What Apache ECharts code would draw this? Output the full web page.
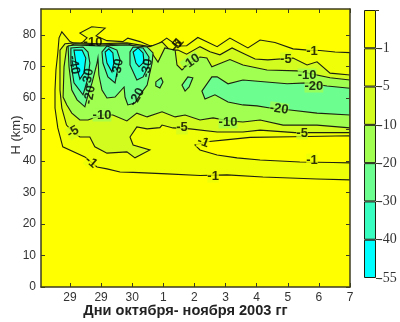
<!DOCTYPE html>
<html style="height: 100%">
<head>
    <meta charset="utf-8">
    <script type="text/javascript" src="https://cdn.jsdelivr.net/npm/echarts@6/dist/echarts.min.js"></script>
</head>
<body style="height: 100%; margin: 0; background: #fff">
<div id="container" style="height: 322px;width: 400px"></div>
<script type="text/javascript">
    // x is the tick index (0 = first "29"), y is H in km
    var xTickLabels = ['29', '29', '30', '1', '2', '3', '4', '5', '6', '7'];
    var xTickValues = [0, 1, 2, 3, 4, 5, 6, 7, 8, 9];
    var yTickValues = [0, 10, 20, 30, 40, 50, 60, 70, 80];
    var barLabels = ['', '-1', '-5', '-10', '-20', '-30', '-40', '-55'];
    var bandColors = ['#ffff00', '#eeff08', '#d2fb20', '#a0ff50', '#6cff90', '#38ffc0', '#00ffff'];

    var contour1 = [[9,74.4],[8.52,74.6],[8.04,75.1],[7.65,75.2],[7.17,75.6],[6.59,77.6],[6.11,78.4],[5.72,75.9],[5.14,79],[4.73,76.3],[4.11,79.2],[3.75,76.6],[3.46,76.5],[3.11,79],[2.8,76.8],[2.57,76.6],[2.25,77.9],[1.86,79],[1.7,77.9],[1.19,78.2],[0.84,79.7],[1.13,82.2],[0.7,82.6],[0.32,80.6],[0.55,79.1],[0.42,77.8],[0.26,76.8],[0,77.9],[-0.26,81],[-0.35,79.1],[-0.39,74.3],[-0.45,68.9],[-0.48,62.5],[-0.48,56.8],[-0.39,50.5],[-0.23,44.5],[0.48,41.3],[0.87,38.1],[1.19,37.5],[1.61,36.5],[2.03,36.4],[3.12,35.9],[4.18,35.4],[5.05,35.6],[6.2,34.9],[7.07,34.6],[7.94,34.3],[9,34]];
    var pocket1 = [[9,48],[7.17,47.7],[5.79,47.5],[5,46.7],[4.4,46.1],[4.02,45.1],[4.18,43.5],[4.73,41.9],[5.37,41],[6.11,40.3],[7.39,39.7],[8.45,39.5],[9,39.4]];
    var contour5 = [[9,67.3],[8.36,67.9],[7.94,71.5],[7.62,70.5],[7.17,72.7],[6.36,72.1],[5.95,72.4],[5.46,74.7],[5.21,75.9],[4.82,73.7],[4.5,74.7],[4.18,76.3],[3.75,73.9],[3.47,75.2],[3.21,75.2],[2.96,77.8],[2.57,76.3],[1.83,77.5],[0.96,77.2],[0.16,77.5],[-0.16,77.2],[-0.32,75.2],[-0.32,68.9],[-0.32,62.5],[-0.26,56.8],[-0.11,51.4],[0.1,49.2],[0.32,47.6],[0.64,47.6],[0.8,44.5],[1.19,42.5],[1.83,42.9],[2.09,41],[2.57,43.5],[2.03,45.1],[1.93,47.6],[2.15,50.8],[2.48,50.2],[2.89,50.6],[2.96,51.4],[3.31,50.5],[3.86,50.2],[4.73,49.2],[5.56,49.2],[6.11,49.8],[7.23,49],[9,49]];
    var contour10 = [[9,65.7],[8.36,66.4],[7.3,68.6],[6.33,68.9],[5.56,70.5],[5.14,72.2],[4.56,69.9],[4.4,72.7],[4.18,73],[3.86,71.1],[3.6,68.9],[3.44,70.5],[3.38,75.2],[3.05,75.9],[2.83,71.4],[2.57,75.2],[1.83,77.2],[0.96,76.8],[0.16,77.2],[-0.1,76.2],[-0.19,69.9],[-0.22,60.3],[-0.1,57.8],[0.06,55.2],[0.32,53],[0.58,53],[1.03,54.6],[1.38,54.6],[1.83,52.7],[2.15,55.2],[2.48,54],[2.96,55.6],[3.38,54],[3.7,54.6],[4.18,53],[4.6,53.7],[5.14,52.7],[5.56,52.4],[6.11,53],[6.85,51.4],[7.94,51.4],[9,50.5]];
    var tongue20 = [[9,63.1],[8.26,63.8],[7.62,64.8],[6.98,64.5],[5.56,65.7],[5.08,64.5],[4.73,66.7],[4.56,66.7],[4.24,62.2],[4.34,59.7],[4.66,61],[5.08,58.7],[5.56,57.8],[6.01,57.5],[6.43,56.8],[7.07,56.2],[7.94,55.2],[9,54.6]];
    var island20a = [[2.76,65.1],[2.93,66.4],[2.99,65.1],[2.89,63.2],[2.76,63.8]];
    var island20b = [[3.6,64.1],[3.79,66.7],[3.95,66.4],[3.83,63.5],[3.7,62.2]];
    var peaks20 = [[-0.06,76.5],[-0.03,69.9],[0.06,62.5],[0.23,59.4],[0.48,57.2],[0.58,61],[0.71,64.8],[0.87,71.1],[0.9,72.7],[0.93,67.3],[1.03,62.5],[1.19,60],[1.45,60.3],[1.74,63.5],[1.77,60.3],[1.86,57.8],[2.09,58.4],[2.25,61],[2.48,64.1],[2.64,71.1],[2.67,74.3],[2.48,76.2],[1.83,76.8],[0.96,76.5],[0.16,76.8]];
    var peak30a = [[0.03,75.9],[0.03,71.1],[0.13,64.8],[0.42,61],[0.58,66.4],[0.64,71.1],[0.58,74.6],[0.42,76.2]];
    var peak30b = [[1.03,74.6],[1.06,71.1],[1.22,66.7],[1.45,64.8],[1.54,69.5],[1.61,72.1],[1.51,75.2],[1.19,76.5]];
    var peak30c = [[1.93,74.6],[1.93,70.5],[2.15,65.7],[2.35,66.7],[2.51,69.9],[2.54,73],[2.35,75.9],[2.03,76.2]];
    var peak40a = [[0.13,75.2],[0.2,70.5],[0.32,66],[0.45,67.9],[0.51,72.7],[0.39,75.2]];
    var peak40b = [[1.13,74.6],[1.19,71.1],[1.35,68.3],[1.41,71.1],[1.38,74.3],[1.25,75.6]];
    var peak40c = [[2.03,74.6],[2.12,71.1],[2.22,69.9],[2.38,71.4],[2.35,74.3],[2.19,75.9]];

    // painted in this order, second value is the index into bandColors
    var contours = [
        [contour1, 1], [pocket1, 0], [contour5, 2], [contour10, 3],
        [tongue20, 4], [island20a, 4], [island20b, 4], [peaks20, 4],
        [peak30a, 5], [peak30b, 5], [peak30c, 5],
        [peak40a, 6], [peak40b, 6], [peak40c, 6]
    ];

    // x, H, text, rotation, band under the label (-1: no gap behind it)
    var contourLabels = [
        [7.78, 74.9, '-1', 0, 1], [6.94, 72.4, '-5', 0, 2], [7.62, 67.3, '-10', 0, 3],
        [7.84, 63.8, '-20', 0, 3], [6.72, 56.5, '-20', -8, 3], [5.08, 52.4, '-10', 0, 3],
        [7.46, 48.9, '-5', 0, 2], [7.78, 40.3, '-1', 0, 1], [4.6, 35.2, '-1', 0, 1],
        [4.28, 46, '-1', -20, 1], [3.6, 50.5, '-5', 0, 2], [1.03, 54.6, '-10', 0, 3],
        [0.1, 49.2, '-5', 30, 2], [0.68, 39.7, '-1', -40, 1], [3.89, 71.4, '-10', 35, 3],
        [3.41, 76.5, '-5', 50, -1], [3.47, 77.2, '-1', 50, -1], [0.74, 77.5, '-10', 0, -1],
        [0.13, 70.5, '-40', -80, -1], [0.58, 66.4, '-30', 80, -1], [0.64, 61, '-20', 80, -1],
        [1.54, 69.5, '-30', 80, -1], [2.48, 69.5, '-30', 80, -1], [2.15, 60.3, '-20', 60, -1]
    ];

    var axisColor = '#3c3c20';
    var lineColor = '#1c2010';
    var textColor = '#333';
    var fontName = 'Liberation Sans';

    function frameAxis(extra) {
        var base = {
            type: 'value',
            z: 5,
            axisLine: {show: true, onZero: false, lineStyle: {color: axisColor, width: 1.5}},
            splitLine: {show: false},
            axisTick: {show: true, inside: true, length: 4, lineStyle: {color: axisColor}}
        };
        return Object.assign(base, extra);
    }

    var myChart = echarts.init(document.getElementById('container'));
    var option = {
        animation: false,
        grid: [
            {left: 41, top: 9, width: 309, height: 278, show: true, backgroundColor: '#ffff00', borderWidth: 0},
            {left: 364, top: 10, width: 12, height: 268}
        ],
        xAxis: [
            frameAxis({gridIndex: 0, position: 'bottom', min: -0.93, max: 9,
                axisTick: {show: true, inside: true, length: 4, customValues: xTickValues, lineStyle: {color: axisColor}},
                axisLabel: {customValues: xTickValues, color: textColor, fontFamily: fontName, fontSize: 12, margin: 5,
                    formatter: function (v) { return xTickLabels[v]; }}}),
            frameAxis({gridIndex: 0, position: 'top', min: -0.93, max: 9,
                axisTick: {show: true, inside: true, length: 4, customValues: xTickValues, lineStyle: {color: axisColor}},
                axisLabel: {show: false}}),
            {type: 'category', gridIndex: 1, data: ['c'], axisLine: {show: false}, axisTick: {show: false}, axisLabel: {show: false}}
        ],
        yAxis: [
            frameAxis({gridIndex: 0, position: 'left', min: 0, max: 88.25,
                axisTick: {show: true, inside: true, length: 4, customValues: yTickValues, lineStyle: {color: axisColor}},
                axisLabel: {customValues: yTickValues, color: textColor, fontFamily: fontName, fontSize: 12, margin: 5}}),
            frameAxis({gridIndex: 0, position: 'right', min: 0, max: 88.25,
                axisTick: {show: true, inside: true, length: 4, customValues: yTickValues, lineStyle: {color: axisColor}},
                axisLabel: {show: false}}),
            {type: 'value', gridIndex: 1, position: 'right', inverse: true, min: 0, max: 7, interval: 1, splitLine: {show: false},
                axisLine: {show: false},
                axisTick: {show: true, length: 3, lineStyle: {color: axisColor}},
                axisLabel: {color: textColor, fontFamily: 'Liberation Sans Narrow', fontSize: 14, margin: 2,
                    formatter: function (v) { return barLabels[v]; }}}
        ],
        graphic: [
            {type: 'text', x: 16, y: 135, rotation: Math.PI / 2,
                style: {text: 'H (km)', fill: textColor, align: 'center', verticalAlign: 'middle', font: '13px "Liberation Sans"'}},
            {type: 'text', x: 185.5, y: 311,
                style: {text: 'Дни октября- ноября 2003 гг', fill: '#222', align: 'center', verticalAlign: 'middle', font: 'bold 14.6px "Liberation Sans"'}}
        ],
        series: [
            {
                type: 'custom',
                coordinateSystem: 'cartesian2d',
                xAxisIndex: 0,
                yAxisIndex: 0,
                clip: true,
                z: 2,
                data: contours.map(function (c, i) { return [i]; }),
                renderItem: function (params, api) {
                    var c = contours[params.dataIndex];
                    return {
                        type: 'polygon',
                        shape: {points: c[0].map(function (p) { return api.coord(p); })},
                        style: {fill: bandColors[c[1]], stroke: lineColor, lineWidth: 1.1}
                    };
                }
            },
            {
                type: 'scatter',
                xAxisIndex: 0,
                yAxisIndex: 0,
                symbolSize: 0,
                z: 3,
                data: contourLabels.map(function (l) {
                    return {
                        value: [l[0], l[1]],
                        label: {
                            show: true, position: 'inside', formatter: l[2], rotate: l[3], color: '#000',
                            fontFamily: fontName, fontWeight: 'bold', fontSize: 13,
                            backgroundColor: l[4] < 0 ? 'transparent' : bandColors[l[4]], padding: 0
                        }
                    };
                })
            }
        ].concat(bandColors.map(function (color) {
            return {
                type: 'bar',
                xAxisIndex: 2,
                yAxisIndex: 2,
                stack: 'bar',
                barWidth: '100%',
                data: [1],
                itemStyle: {color: color, borderColor: lineColor, borderWidth: 1}
            };
        }))
    };
    myChart.setOption(option);
</script>
</body>
</html>
